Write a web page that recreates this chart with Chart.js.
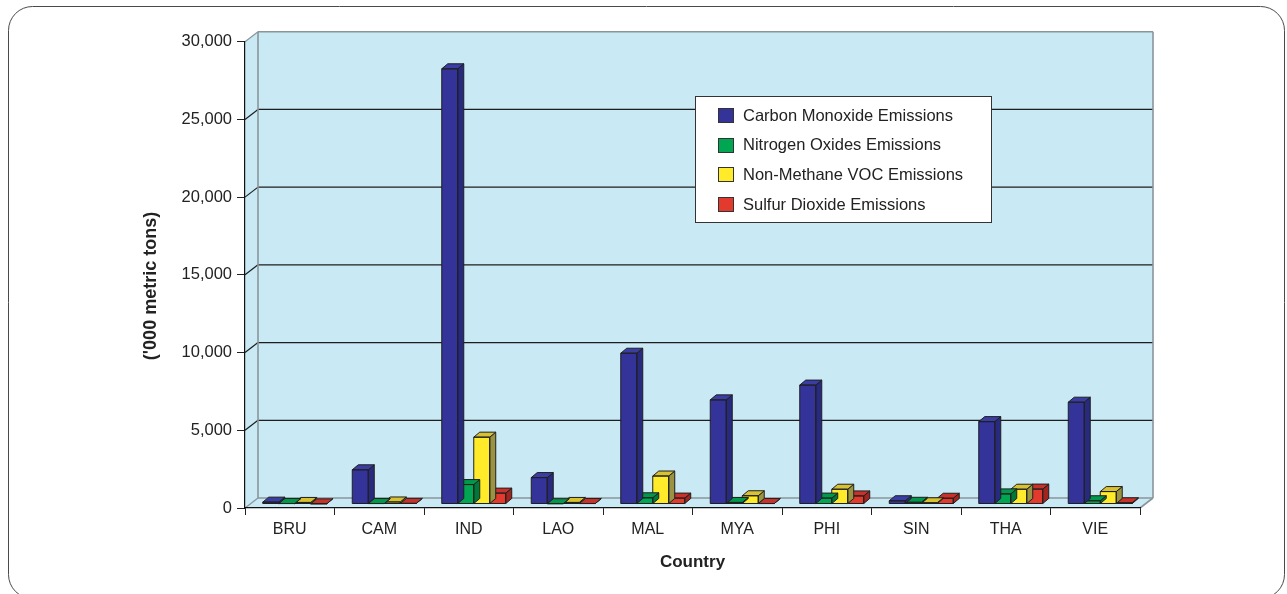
<!DOCTYPE html>
<html>
<head>
<meta charset="utf-8">
<title>Air Pollutant Emissions by Country</title>
<script src="https://cdn.jsdelivr.net/npm/chart.js@4/dist/chart.umd.min.js"></script>
<style>
  html, body { margin: 0; padding: 0; background: #ffffff; }
  canvas { display: block; }
</style>
</head>
<body>
<canvas id="chart" width="1287" height="594"></canvas>
<script>
// ---- data ('000 metric tons) ----
const countries = ['BRU', 'CAM', 'IND', 'LAO', 'MAL', 'MYA', 'PHI', 'SIN', 'THA', 'VIE'];
const carbonMonoxide = [120, 2200, 28000, 1700, 9700, 6700, 7650, 210, 5300, 6550];
const nitrogenOxides = [30, 30, 1250, 20, 400, 100, 380, 110, 650, 210];
const nonMethaneVOC = [100, 130, 4300, 100, 1800, 530, 950, 80, 950, 800];
const sulfurDioxide = [10, 40, 700, 30, 380, 30, 520, 370, 960, 80];
const seriesNames = ['Carbon Monoxide Emissions', 'Nitrogen Oxides Emissions', 'Non-Methane VOC Emissions', 'Sulfur Dioxide Emissions'];
const yTicks = [0, 5000, 10000, 15000, 20000, 25000, 30000];
const xTitle = 'Country';
const yTitle = "('000 metric tons)";

// ---- styling ----
const FONT = "'Liberation Sans', Arial, Helvetica, sans-serif";
const TEXT = '#222222';
const faces = [
  { front: '#333399', top: '#3A3EA4', side: '#272A7E' },
  { front: '#00A651', top: '#00984A', side: '#00783A' },
  { front: '#FFEB2A', top: '#D8C230', side: '#9A9342' },
  { front: '#E23B2E', top: '#C9322A', side: '#A3241E' }
];
const WALL = '#C9E9F4';
const EDGE = '#8A959B';
const BACK = { dx: 13, dy: -10 };   // depth of the wall box
const FRONT = { dx: 5, dy: -4 };    // bar front plane inside the box
const DEPTH = { dx: 6, dy: -5 };    // bar thickness

const seriesValues = [carbonMonoxide, nitrogenOxides, nonMethaneVOC, sulfurDioxide];

// frame, back wall, side wall, floor and wall gridlines
const wallsPlugin = {
  id: 'walls',
  beforeDraw(chart) {
    const { ctx, chartArea: a, scales: { y } } = chart;
    ctx.save();
    // rounded frame
    ctx.strokeStyle = '#4a4a4a';
    ctx.lineWidth = 1;
    ctx.beginPath();
    ctx.roundRect(8.5, 6.5, 1276, 592, 24);
    ctx.stroke();

    const L = a.left, R = a.right, T = a.top, B = a.bottom;
    const bL = L + BACK.dx, bR = R + BACK.dx, bT = T + BACK.dy, bB = B + BACK.dy;
    ctx.fillStyle = WALL;
    // back wall
    ctx.fillRect(bL, bT, bR - bL, bB - bT);
    // side wall
    ctx.beginPath();
    ctx.moveTo(L, T); ctx.lineTo(bL, bT); ctx.lineTo(bL, bB); ctx.lineTo(L, B); ctx.closePath();
    ctx.fill();
    // floor
    ctx.beginPath();
    ctx.moveTo(L, B); ctx.lineTo(bL, bB); ctx.lineTo(bR, bB); ctx.lineTo(R, B); ctx.closePath();
    ctx.fill();

    // gridlines across back wall and side wall
    yTicks.forEach(v => {
      const py = y.getPixelForValue(v);
      const edge = (v === yTicks[0] || v === yTicks[yTicks.length - 1]);
      ctx.strokeStyle = edge ? EDGE : '#1e1e1e';
      ctx.lineWidth = edge ? 1.6 : 1.3;
      ctx.beginPath();
      ctx.moveTo(bL, py + BACK.dy);
      ctx.lineTo(bR, py + BACK.dy);
      ctx.stroke();
      ctx.lineWidth = 1.2;
      ctx.beginPath();
      ctx.moveTo(L, py);
      ctx.lineTo(bL, py + BACK.dy);
      ctx.stroke();
    });
    // wall edges
    ctx.strokeStyle = EDGE;
    ctx.lineWidth = 1.6;
    ctx.beginPath();
    ctx.moveTo(bL, bT); ctx.lineTo(bL, bB);
    ctx.moveTo(bR, bT); ctx.lineTo(bR, bB);
    ctx.moveTo(R, B); ctx.lineTo(bR, bB);
    ctx.stroke();
    ctx.restore();
  }
};

// extruded bars: shift the bar plane back and add top and side faces
const barsPlugin = {
  id: 'bars3d',
  beforeDatasetDraw(chart) {
    chart.ctx.save();
    chart.ctx.translate(FRONT.dx, FRONT.dy);
  },
  afterDatasetDraw(chart, args) {
    const ctx = chart.ctx;
    const f = faces[args.index];
    args.meta.data.forEach(el => {
      const { x, y, base, width } = el.getProps(['x', 'y', 'base', 'width'], true);
      const l = x - width / 2, r = x + width / 2;
      ctx.lineWidth = 1;
      ctx.strokeStyle = '#1f1f1f';
      ctx.lineJoin = 'round';
      // side face
      ctx.beginPath();
      ctx.moveTo(r, y); ctx.lineTo(r + DEPTH.dx, y + DEPTH.dy);
      ctx.lineTo(r + DEPTH.dx, base + DEPTH.dy); ctx.lineTo(r, base); ctx.closePath();
      ctx.fillStyle = f.side; ctx.fill(); ctx.stroke();
      // top face
      ctx.beginPath();
      ctx.moveTo(l, y); ctx.lineTo(l + DEPTH.dx, y + DEPTH.dy);
      ctx.lineTo(r + DEPTH.dx, y + DEPTH.dy); ctx.lineTo(r, y); ctx.closePath();
      ctx.fillStyle = f.top; ctx.fill(); ctx.stroke();
      // front outline
      ctx.strokeRect(l, y, width, base - y);
    });
    ctx.restore();
  }
};

// boxed legend inside the plot, and the rotated value-axis title
const legendPlugin = {
  id: 'boxLegend',
  afterDraw(chart) {
    const ctx = chart.ctx;
    ctx.save();
    ctx.fillStyle = '#ffffff';
    ctx.strokeStyle = '#333333';
    ctx.lineWidth = 1;
    ctx.fillRect(695.5, 96.5, 296, 126);
    ctx.strokeRect(695.5, 96.5, 296, 126);
    ctx.font = '16.5px ' + FONT;
    ctx.textBaseline = 'middle';
    chart.data.datasets.forEach((ds, i) => {
      const cy = 115 + i * 29.7;
      ctx.fillStyle = ds.backgroundColor;
      ctx.fillRect(718.5, Math.round(cy - 7) + 0.5, 15, 14);
      ctx.strokeStyle = '#333333';
      ctx.strokeRect(718.5, Math.round(cy - 7) + 0.5, 15, 14);
      ctx.fillStyle = TEXT;
      ctx.fillText(ds.label, 743, cy + 1);
    });

    ctx.translate(151, 286);
    ctx.rotate(-Math.PI / 2);
    ctx.font = 'bold 18px ' + FONT;
    ctx.textAlign = 'center';
    ctx.textBaseline = 'middle';
    ctx.fillStyle = TEXT;
    ctx.fillText(yTitle, 0, 0);
    ctx.restore();
  }
};

new Chart(document.getElementById('chart'), {
  type: 'bar',
  data: {
    labels: countries,
    datasets: seriesValues.map((vals, i) => ({
      label: seriesNames[i],
      data: vals,
      backgroundColor: faces[i].front,
      borderColor: '#1f1f1f',
      borderWidth: 0,
      categoryPercentage: 0.715,
      barPercentage: 1.0,
      clip: false
    }))
  },
  options: {
    responsive: false,
    animation: false,
    events: [],
    layout: { padding: { top: 41.7, right: 147, bottom: 0, left: 0 } },
    plugins: { legend: { display: false }, tooltip: { enabled: false } },
    scales: {
      x: {
        offset: true,
        grid: { display: true, offset: true, drawOnChartArea: false, drawTicks: true, tickLength: 7, color: '#222222', lineWidth: 1 },
        border: { display: true, color: '#111111', width: 1.2 },
        ticks: { font: { family: FONT, size: 16 }, color: TEXT, padding: 5 },
        title: { display: true, text: xTitle, color: TEXT, font: { family: FONT, size: 17, weight: 'bold' }, padding: { top: 0, bottom: 21.8 } },
        afterFit(s) { s.height = 86; }
      },
      y: {
        min: 0,
        max: 30000,
        afterBuildTicks(s) { s.ticks = yTicks.map(v => ({ value: v })); },
        ticks: { font: { family: FONT, size: 16.5 }, color: TEXT, padding: 5, callback: v => Number(v).toLocaleString('en-US') },
        grid: { drawOnChartArea: false, drawTicks: true, tickLength: 8, color: '#222222', lineWidth: 1 },
        border: { display: true, color: '#111111', width: 1.2 },
        title: { display: false },
        afterFit(s) { s.width = 245; }
      }
    }
  },
  plugins: [wallsPlugin, barsPlugin, legendPlugin]
});
</script>
</body>
</html>
